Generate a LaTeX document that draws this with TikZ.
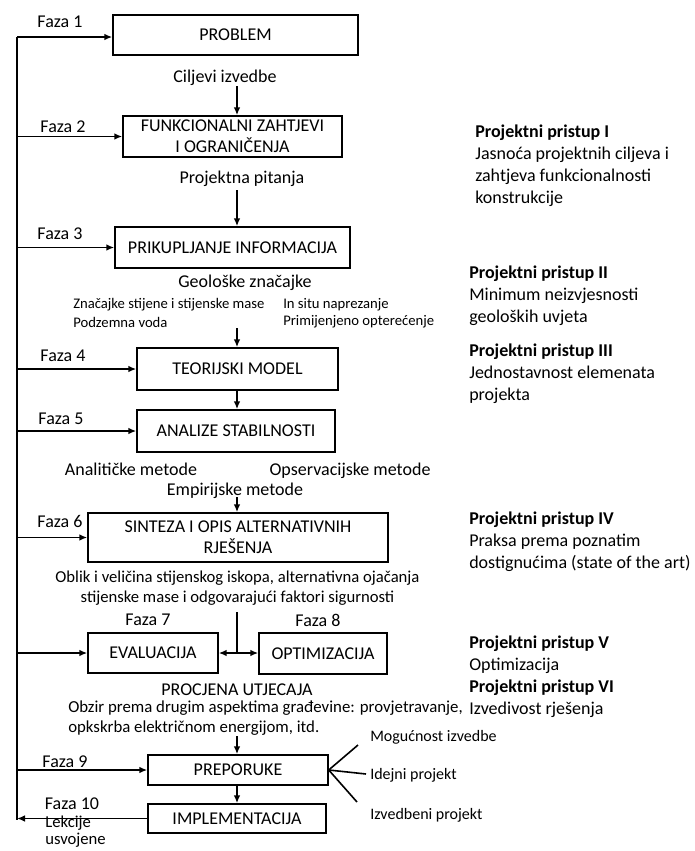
\documentclass[tikz,border=0pt]{standalone}
\usepackage{fontspec}
\setmainfont{Carlito}
\usetikzlibrary{arrows.meta,positioning}

\begin{document}
\begin{tikzpicture}[x=0.75pt,y=-0.75pt,
    box/.style={draw,line width=1.1pt,align=center,inner sep=0pt,
      font=\fontsize{13.5}{15.5}\selectfont},
    txt/.style={inner sep=0pt,font=\fontsize{13.5}{15.5}\selectfont},
    small/.style={inner sep=0pt,anchor=west,font=\fontsize{11}{13}\selectfont},
    fan/.style={inner sep=0pt,anchor=west,font=\fontsize{12}{13.5}\selectfont},
    pristup/.style={inner sep=0pt,anchor=north west,align=left,
      font=\fontsize{13.5}{16.3}\selectfont},
    flow/.style={line width=1.4pt,-{Latex[length=6pt,width=5pt]}}]
  \useasboundingbox (0,0) rectangle (694,851);

  % faze
  \node[box,minimum width=183.75pt,minimum height=30pt] (problem) at (235.5,35) {PROBLEM};
  \node[box,minimum width=164.25pt,minimum height=30.75pt] (zahtjevi) at (232.5,136.5)
    {FUNKCIONALNI ZAHTJEVI\\I OGRANIČENJA};
  \node[box,minimum width=176.25pt,minimum height=30.75pt] (informacije) at (232.5,247.5)
    {PRIKUPLJANJE INFORMACIJA};
  \node[box,minimum width=150.75pt,minimum height=31.5pt] (model) at (237.5,369) {TEORIJSKI MODEL};
  \node[box,minimum width=148.5pt,minimum height=31.5pt] (analize) at (236,431) {ANALIZE STABILNOSTI};
  \node[box,minimum width=225pt,minimum height=36.75pt] (sinteza) at (238,537.5)
    {SINTEZA I OPIS ALTERNATIVNIH\\RJEŠENJA};
  \node[box,minimum width=97.5pt,minimum height=30pt] (evaluacija) at (153,653) {EVALUACIJA};
  \node[box,minimum width=96pt,minimum height=30.75pt] (optimizacija) at (323,653.5) {OPTIMIZACIJA};
  \node[box,minimum width=135pt,minimum height=22.5pt] (preporuke) at (238,770) {PREPORUKE};
  \node[box,minimum width=133.5pt,minimum height=21.75pt] (implementacija) at (237,818.5) {IMPLEMENTACIJA};

  \node[txt] (f1) at (60,22) {Faza 1};
  \node[txt] (f2) at (63,127) {Faza 2};
  \node[txt] (f3) at (60,234) {Faza 3};
  \node[txt] (f4) at (63,356) {Faza 4};
  \node[txt] (f5) at (61,419) {Faza 5};
  \node[txt] (f6) at (60,521) {Faza 6};
  \node[txt] (f7) at (148,620) {Faza 7};
  \node[txt] (f8) at (318,620) {Faza 8};
  \node[txt] (f9) at (65,762) {Faza 9};
  \node[txt] (f10) at (72,804) {Faza 10};
  \node[fan,anchor=north west,align=left,font=\fontsize{12.5}{12.5}\selectfont] (lekcije) at (45,816)
    {Lekcije\\usvojene};

  % medjukoraci
  \node[txt] (cilj) at (225,78) {Ciljevi izvedbe};
  \node[txt] (pitanja) at (242,179) {Projektna pitanja};
  \node[txt] (geo) at (245,283) {Geološke značajke};
  \node[small] (stijena) at (73,305) {Značajke stijene i stijenske mase};
  \node[small] (voda) at (73,322) {Podzemna voda};
  \node[small] (insitu) at (283,305) {In situ naprezanje};
  \node[small] (opterecenje) at (283,322) {Primijenjeno opterećenje};
  \node[txt] (analiticke) at (131,469) {Analitičke metode};
  \node[txt] (opservacijske) at (350,471) {Opservacijske metode};
  \node[txt] (empirijske) at (235,491) {Empirijske metode};
  \node[txt,align=center,font=\fontsize{12.5}{14.5}\selectfont] (oblik) at (237.5,588)
    {Oblik i veličina stijenskog iskopa, alternativna ojačanja\\stijenske mase i odgovarajući faktori sigurnosti};
  \node[txt] (procjena) at (237,690) {PROCJENA UTJECAJA};
  \node[txt,anchor=north west,align=left,font=\fontsize{12.6}{15}\selectfont] (obzir) at (68,701)
    {Obzir prema drugim aspektima građevine: provjetravanje,\\opkskrba električnom energijom, itd.};
  \node[fan] (mogucnost) at (370,737) {Mogućnost izvedbe};
  \node[fan] (idejni) at (370,775) {Idejni projekt};
  \node[fan] (izvedbeni) at (370,815) {Izvedbeni projekt};

  % projektni pristupi
  \node[pristup] (p1) at (475,125) {\textbf{Projektni pristup I}\\Jasnoća projektnih ciljeva i\\
    zahtjeva funkcionalnosti\\konstrukcije};
  \node[pristup] (p2) at (469,266) {\textbf{Projektni pristup II}\\Minimum neizvjesnosti\\geoloških uvjeta};
  \node[pristup] (p3) at (469,344) {\textbf{Projektni pristup III}\\Jednostavnost elemenata\\projekta};
  \node[pristup] (p4) at (469,512) {\textbf{Projektni pristup IV}\\Praksa prema poznatim\\
    dostignućima (state of the art)};
  \node[pristup] (p5) at (469,636) {\textbf{Projektni pristup V}\\Optimizacija\\
    \textbf{Projektni pristup VI}\\Izvedivost rješenja};

  % povratna linija
  \coordinate (top) at (17,37);
  \coordinate (bottom) at (17,820);
  \draw[line width=2pt] (top) -- (bottom);
  \draw[flow] (top) -- (top -| problem.west);
  \foreach \b in {zahtjevi,informacije,model,analize,sinteza,evaluacija,preporuke}
    \draw[flow] (\b.west -| top) -- (\b.west);
  \draw[flow] (implementacija.west) -- (implementacija.west -| top);

  % tok
  \coordinate (a1) at (237,86);
  \coordinate (a2) at (237,190);
  \coordinate (a3) at (237,328);
  \coordinate (a5) at (237,497);
  \coordinate (a6) at (237,612);
  \coordinate (j78) at (237,653);
  \coordinate (a8) at (237,736);
  \draw[flow] (a1) -- (a1 |- zahtjevi.north);
  \draw[flow] (a2) -- (a2 |- informacije.north);
  \draw[flow] (a3) -- (a3 |- model.north);
  \draw[flow] (model.south -| a3) -- (a3 |- analize.north);
  \draw[flow] (a5) -- (a5 |- sinteza.north);
  \draw[line width=1.4pt] (a6) -- (j78);
  \draw[flow] (j78) -- (evaluacija.east |- j78);
  \draw[flow] (j78) -- (optimizacija.west |- j78);
  \draw[flow] (a8) -- (a8 |- preporuke.north);
  \draw[flow] (preporuke.south -| a8) -- (a8 |- implementacija.north);

  % izlazi
  \coordinate (m1) at (358,745);
  \coordinate (m2) at (366,774);
  \coordinate (m3) at (357,802);
  \draw[line width=1.2pt] (m1) -- (preporuke.east) -- (m3);
  \draw[line width=1.2pt] (preporuke.east) -- (m2);
\end{tikzpicture}
\end{document}
